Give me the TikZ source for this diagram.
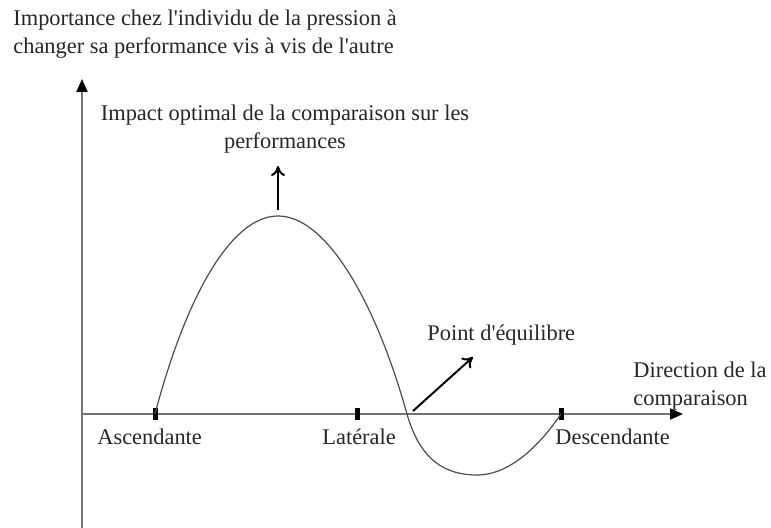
\documentclass[tikz,border=0pt]{standalone}
\usepackage{fontspec}
\setmainfont{Liberation Serif}
\usetikzlibrary{arrows.meta, calc}
\newcommand{\apos}{\textquotesingle}

\begin{document}
\begin{tikzpicture}[x=0.5pt, y=-0.5pt,
		font=\fontsize{11.2pt}{14pt}\selectfont,
		axe/.style={draw=black!55, line width=1pt, -{Triangle[length=6.5pt, width=5.5pt, color=black]}},
		courbe/.style={draw=black!70, line width=0.6pt},
		fleche/.style={draw=black, line width=1pt, -{To[length=5pt, width=7pt]}},
		lbl/.style={inner sep=0pt, text=black!85}]
		\useasboundingbox (0,0) rectangle (771,528);

		% axes
		\coordinate (O) at (82,414);
		\coordinate (ybas) at (82,528);
		\coordinate (yhaut) at (82,79);
		\coordinate (xfin) at (683,414);
		\draw[axe] (ybas) -- (yhaut);
		\draw[axe] (O) -- (xfin);

		% graduations
		\coordinate (asc) at (155,414);
		\coordinate (lat) at (357,414);
		\coordinate (desc) at (561,414);
		\foreach \p in {asc, lat, desc}
			\fill[black] ($(\p)+(-2.5,-6)$) rectangle ($(\p)+(2.5,6)$);

		% courbe
		\coordinate (sommet) at (278,216);
		\coordinate (equi) at (407,414);
		\coordinate (creux) at (477,475);
		\draw[courbe] (asc) .. controls (185,300) and (230,216) .. (sommet)
			.. controls (326,216) and (375,300) .. (equi)
			.. controls (420,460) and (445,475) .. (creux)
			.. controls (510,475) and (540,445) .. (desc);

		% textes
		\node[lbl, anchor=north west, align=left] (titre) at (13,10)
			{Importance chez l\apos individu de la pression à\\changer sa performance vis à vis de l\apos autre};
		\node[lbl, align=center] (impact) at (285,129)
			{Impact optimal de la comparaison sur les\\performances};
		\node[lbl, anchor=west] (point) at (427,335) {Point d\apos équilibre};
		\node[lbl, anchor=north west, align=left] (direction) at (633,362)
			{Direction de la\\comparaison};
		\node[lbl, anchor=west] (tasc) at (97,437) {Ascendante};
		\node[lbl, anchor=west] (tlat) at (322,437) {Latérale};
		\node[lbl, anchor=west] (tdesc) at (555,437) {Descendante};

		% fleches
		\coordinate (pied) at (278,210);
		\coordinate (pointe) at (278,166);
		\draw[fleche] (pied) -- (pointe);
		\coordinate (depart) at (413,411);
		\coordinate (arrivee) at (473,357);
		\draw[fleche] (depart) -- (arrivee);
	\end{tikzpicture}
\end{document}
